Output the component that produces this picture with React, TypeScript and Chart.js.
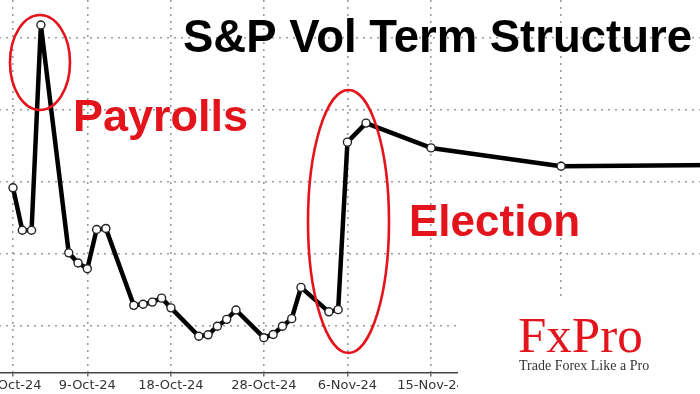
import React, { useEffect, useRef } from "react";
import { Chart, registerables } from "chart.js";

Chart.register(...registerables);

// ---- data ----
const expiryDates = [
  "2024-10-01", "2024-10-02", "2024-10-03", "2024-10-04",
  "2024-10-07", "2024-10-08", "2024-10-09", "2024-10-10", "2024-10-11",
  "2024-10-14", "2024-10-15", "2024-10-16", "2024-10-17", "2024-10-18",
  "2024-10-21", "2024-10-22", "2024-10-23", "2024-10-24", "2024-10-25",
  "2024-10-28", "2024-10-29", "2024-10-30", "2024-10-31", "2024-11-01",
  "2024-11-04", "2024-11-05", "2024-11-06", "2024-11-08",
  "2024-11-15", "2024-11-29", "2024-12-20",
];
const volValues = [
  17.83, 16.65, 16.65, 22.36,
  16.02, 15.74, 15.58, 16.67, 16.7,
  14.56, 14.59, 14.65, 14.76, 14.49,
  13.7, 13.74, 13.98, 14.17, 14.43,
  13.66, 13.75, 13.98, 14.19, 15.06,
  14.38, 14.44, 19.1, 19.63,
  18.94, 18.43, 18.47,
];
const tickDates = [
  "2024-10-01", "2024-10-09", "2024-10-18", "2024-10-28",
  "2024-11-06", "2024-11-15", "2024-11-29",
];
const yGridValues = [14, 16, 18, 20, 22];
const monthNames = ["Jan", "Feb", "Mar", "Apr", "May", "Jun", "Jul", "Aug", "Sep", "Oct", "Nov", "Dec"];

const titleText = "S&P Vol Term Structure";
const note1 = "Payrolls";
const note2 = "Election";
const logoText = "FxPro";
const logoTagline = "Trade Forex Like a Pro";

// ---- helpers ----
const DAY_MS = 86400000;
const BASE = Date.UTC(2024, 9, 1);
const toDay = (s: string) => {
  const [y, m, d] = s.split("-").map(Number);
  return (Date.UTC(y, m - 1, d) - BASE) / DAY_MS;
};
const fmtDay = (day: number) => {
  const dt = new Date(BASE + day * DAY_MS);
  return `${dt.getUTCDate()}-${monthNames[dt.getUTCMonth()]}-${String(dt.getUTCFullYear()).slice(2)}`;
};

const CANVAS_W = 800;
const CANVAS_H = 394;
const SHIFT = 50; // canvas is shifted left by this many px (cropped chart look)
const RED = "#e3141c";

const decorPlugin = {
  id: "decor",
  afterDatasetsDraw(chart: any) {
    const ctx = chart.ctx;
    ctx.save();
    ctx.translate(SHIFT, 0);
    // title
    ctx.fillStyle = "#000";
    ctx.font = "bold 45.5px 'Liberation Sans', Arial, sans-serif";
    ctx.textBaseline = "alphabetic";
    ctx.textAlign = "left";
    ctx.fillText(titleText, 183, 52);
    // notes
    ctx.fillStyle = RED;
    ctx.font = "bold 45px 'Liberation Sans', Arial, sans-serif";
    ctx.fillText(note1, 73, 131);
    ctx.font = "bold 44px 'Liberation Sans', Arial, sans-serif";
    ctx.fillText(note2, 409, 236);
    // ellipses
    ctx.strokeStyle = RED;
    ctx.lineWidth = 2.6;
    ctx.beginPath();
    ctx.ellipse(40, 62.5, 30, 47.5, 0, 0, Math.PI * 2);
    ctx.stroke();
    ctx.beginPath();
    ctx.ellipse(348.5, 221.5, 40.5, 131.5, 0, 0, Math.PI * 2);
    ctx.stroke();
    ctx.restore();
  },
  afterDraw(chart: any) {
    const ctx = chart.ctx;
    ctx.save();
    ctx.translate(SHIFT, 0);
    ctx.fillStyle = "#fff";
    ctx.fillRect(458, 297, 260, 110);
    ctx.fillStyle = RED;
    ctx.font = "51px 'Liberation Serif', 'Times New Roman', serif";
    ctx.textBaseline = "alphabetic";
    ctx.textAlign = "left";
    ctx.fillText(logoText, 518, 352);
    ctx.fillStyle = "#333";
    ctx.font = "14px 'Liberation Serif', 'Times New Roman', serif";
    ctx.fillText(logoTagline, 519, 370);
    ctx.restore();
  },
};

export default function App() {
  const ref = useRef<HTMLCanvasElement | null>(null);
  useEffect(() => {
    if (!ref.current) return;
    const pxPerDay = 9.29;
    const firstPx = 13 + SHIFT;
    const chart = new Chart(ref.current, {
      type: "line",
      data: {
        datasets: [
          {
            data: expiryDates.map((d, i) => ({ x: toDay(d), y: volValues[i] })),
            borderColor: "#000",
            borderWidth: 4.5,
            borderJoinStyle: "round",
            pointRadius: 4,
            pointHoverRadius: 4,
            pointBackgroundColor: "#fff",
            pointBorderColor: "#222",
            pointBorderWidth: 1.4,
            tension: 0,
          },
        ],
      },
      options: {
        animation: false,
        responsive: false,
        devicePixelRatio: 1,
        layout: { padding: 0, autoPadding: false },
        plugins: { legend: { display: false }, tooltip: { enabled: false }, title: { display: false } },
        scales: {
          x: {
            type: "linear",
            min: -firstPx / pxPerDay,
            max: (CANVAS_W - firstPx) / pxPerDay,
            afterBuildTicks: (scale: any) => {
              scale.ticks = tickDates.map((d) => ({ value: toDay(d) }));
            },
            ticks: {
              autoSkip: false,
              maxRotation: 0,
              padding: 1,
              color: "#333",
              font: { family: "'DejaVu Sans', sans-serif", size: 13 },
              callback: (v: any) => fmtDay(Number(v)),
            },
            grid: {
              color: "#9a9a9a",
              lineWidth: 1.6,
              drawTicks: true,
              tickLength: 4,
              tickColor: "#444",
              tickWidth: 1.2,
            },
            border: { display: true, color: "#444", width: 1.5, dash: [2, 5] },
          },
          y: {
            type: "linear",
            min: 22 - (373 - 38) / 36,
            max: 22 + 38 / 36,
            afterBuildTicks: (scale: any) => {
              scale.ticks = yGridValues.map((v) => ({ value: v }));
            },
            ticks: { display: false },
            grid: { color: "#9a9a9a", lineWidth: 1.6, drawTicks: false },
            border: { display: false, dash: [2, 5] },
          },
        },
      },
      plugins: [decorPlugin],
    } as any);
    return () => chart.destroy();
  }, []);

  return (
    <div
      style={{
        position: "fixed",
        left: 0,
        top: 0,
        width: 700,
        height: 394,
        overflow: "hidden",
        background: "#fff",
      }}
    >
      <canvas
        ref={ref}
        width={CANVAS_W}
        height={CANVAS_H}
        style={{ position: "absolute", left: -SHIFT, top: 0, width: CANVAS_W, height: CANVAS_H }}
      />
    </div>
  );
}
